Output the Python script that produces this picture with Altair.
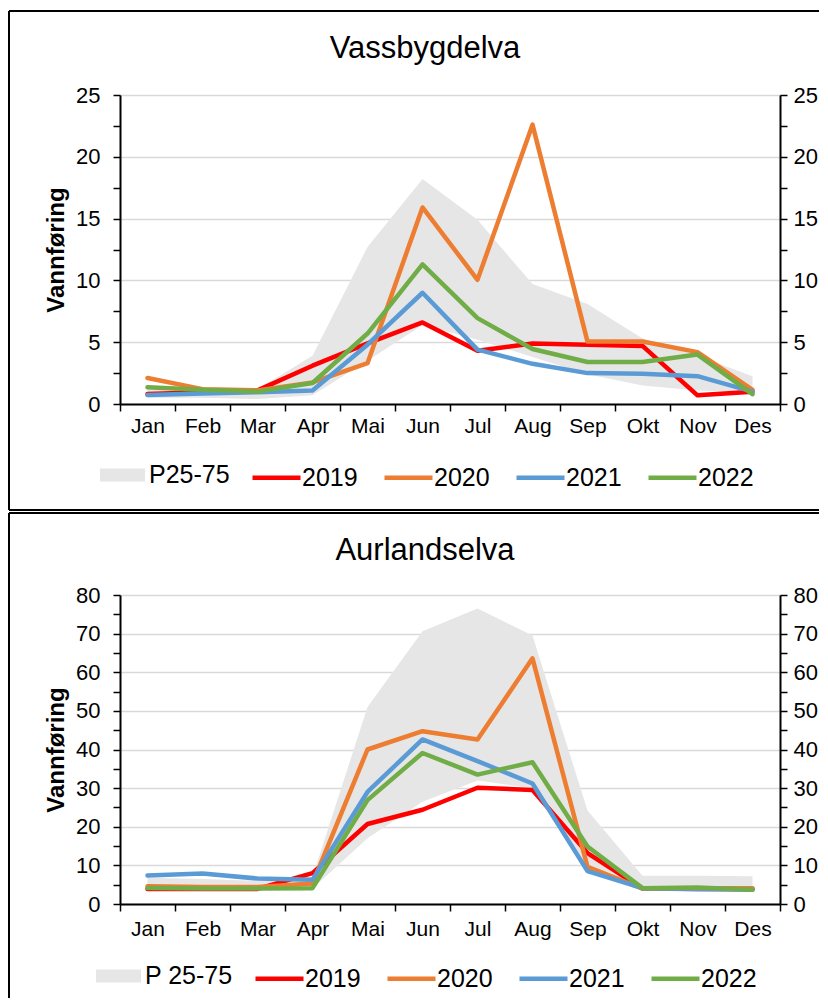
import altair as alt
import pandas as pd

MONTHS = ["Jan", "Feb", "Mar", "Apr", "Mai", "Jun", "Jul", "Aug", "Sep", "Okt", "Nov", "Des"]
YEARS = ["2019", "2020", "2021", "2022"]
COLORS = ["#FF0000", "#ED7D31", "#5B9BD5", "#70AD47"]
BAND_COLOR = "#e6e6e6"

# Vassbygdelva
v_2019 = [0.8, 0.95, 1.1, 3.1, 4.9, 6.6, 4.3, 4.9, 4.8, 4.7, 0.7, 1.0]
v_2020 = [2.1, 1.2, 1.1, 1.75, 3.3, 15.9, 10.05, 22.6, 5.05, 5.05, 4.2, 1.15]
v_2021 = [0.73, 0.85, 0.95, 1.1, 4.8, 9.0, 4.4, 3.25, 2.5, 2.45, 2.25, 1.0]
v_2022 = [1.35, 1.15, 1.0, 1.7, 5.7, 11.3, 6.95, 4.45, 3.4, 3.4, 4.0, 0.8]
v_p25 = [0.5, 0.5, 0.4, 0.7, 3.5, 6.4, 5.2, 3.8, 2.4, 1.5, 1.1, 0.95]
v_p75 = [1.5, 1.3, 1.2, 3.9, 12.7, 18.2, 14.9, 9.7, 8.1, 5.3, 3.9, 2.25]

# Aurlandselva
a_2019 = [3.9, 3.9, 3.9, 8.0, 20.7, 24.4, 30.1, 29.5, 13.2, 4.0, 3.9, 3.9]
a_2020 = [4.6, 4.4, 4.4, 5.3, 40.0, 44.75, 42.6, 63.6, 9.6, 4.0, 4.1, 4.1]
a_2021 = [7.4, 7.9, 6.6, 6.3, 29.0, 42.6, 37.0, 31.2, 8.5, 4.1, 3.9, 3.7]
a_2022 = [4.15, 4.0, 4.0, 4.1, 26.9, 39.1, 33.5, 36.7, 14.9, 4.1, 4.3, 3.7]
a_p25 = [3.5, 3.5, 3.5, 4.0, 17.0, 26.5, 32.0, 30.0, 9.0, 3.8, 3.8, 3.8]
a_p75 = [6.8, 6.5, 6.0, 7.0, 51.0, 70.6, 76.5, 69.5, 24.2, 7.3, 7.3, 7.2]

FONT = "Liberation Sans, Arial, Helvetica, sans-serif"


def panel(title, series, p25, p75, band_label, ymax, major, title_y, x_label_pad,
          legend_y, fill_x, stroke_x, frame_top, frame_bottom, draw_bottom):
    rows = []
    for yr, vals in zip(YEARS, series):
        for m, v in zip(MONTHS, vals):
            rows.append({"month": m, "year": yr, "value": v})
    lines_df = pd.DataFrame(rows)
    band_df = pd.DataFrame({"month": MONTHS, "lo": p25, "hi": p75, "band": band_label})

    minor = major / 2
    ticks = [i * minor for i in range(int(round(ymax / minor)) + 1)]
    is_major = f"abs(datum.value % {major}) < 1e-6"
    label_expr = f"{is_major} ? datum.label : ''"

    xaxis = alt.Axis(tickBand="extent", labelFontSize=21, labelPadding=x_label_pad,
                     labelAngle=0, title=None, grid=False)
    xenc = alt.X("month:N", sort=MONTHS,
                 scale=alt.Scale(type="band", domain=MONTHS, paddingInner=0, paddingOuter=0),
                 bandPosition=0.5, axis=xaxis, title=None)
    yscale = alt.Scale(domain=[0, ymax], nice=False, zero=True)

    left_axis = alt.Axis(orient="left", values=ticks, labelExpr=label_expr,
                         grid=True,
                         gridOpacity={"condition": {"test": is_major, "value": 1}, "value": 0},
                         title="Vannføring", titlePadding=7)
    right_axis = alt.Axis(orient="right", values=ticks, labelExpr=label_expr,
                          grid=False, title=None, labelPadding=6)

    area = alt.Chart(band_df).mark_area(opacity=1).encode(
        x=xenc,
        y=alt.Y("hi:Q", scale=yscale, axis=left_axis, title="Vannføring"),
        y2="lo:Q",
        fill=alt.Fill("band:N", scale=alt.Scale(domain=[band_label], range=[BAND_COLOR]),
                      legend=alt.Legend(orient="none", legendX=fill_x, legendY=legend_y + 1.5,
                                        title=None,
                                        symbolType="M-1,-0.29L1,-0.29L1,0.29L-1,0.29Z",
                                        symbolSize=2025, symbolStrokeWidth=0,
                                        symbolOpacity=1,
                                        labelOffset=4)),
    )

    lines = alt.Chart(lines_df).mark_line(strokeWidth=4.5, strokeJoin="round", strokeCap="round").encode(
        x=xenc,
        y=alt.Y("value:Q", scale=yscale, axis=right_axis, title=None),
        stroke=alt.Stroke("year:N", scale=alt.Scale(domain=YEARS, range=COLORS),
                          legend=alt.Legend(orient="none", legendX=stroke_x, legendY=legend_y,
                                            direction="horizontal", columns=4, title=None,
                                            symbolType="stroke", symbolSize=2304,
                                            symbolStrokeWidth=4.5, labelOffset={"expr": "-1"},
                                            columnPadding=17)),
    )

    title_df = pd.DataFrame({"t": [title]})
    title_mark = alt.Chart(title_df).mark_text(
        font=FONT, fontSize=31, align="center", baseline="alphabetic", color="black"
    ).encode(text="t:N", x=alt.value(305), y=alt.value(title_y))

    frame_df = pd.DataFrame({"k": [0]})
    top_rule = alt.Chart(frame_df).mark_rule(color="black", strokeWidth=2).encode(
        x=alt.value(-111), x2=alt.value(699), y=alt.value(frame_top))
    left_rule = alt.Chart(frame_df).mark_rule(color="black", strokeWidth=2).encode(
        x=alt.value(-111), y=alt.value(frame_top), y2=alt.value(frame_bottom))
    layers = [area, lines, title_mark, top_rule, left_rule]
    if draw_bottom:
        bottom_rule = alt.Chart(frame_df).mark_rule(color="black", strokeWidth=2).encode(
            x=alt.value(-111), x2=alt.value(699), y=alt.value(frame_bottom))
        layers.append(bottom_rule)

    return alt.layer(*layers).resolve_axis(y="independent").properties(width=660, height=309)


top = panel("Vassbygdelva", [v_2019, v_2020, v_2021, v_2022], v_p25, v_p75, "P25-75",
            25, 5, -37, 4, 356, -20, 130, -84, 415, True)
bottom = panel("Aurlandselva", [a_2019, a_2020, a_2021, a_2022], a_p25, a_p75, "P 25-75",
               80, 10, -35, 7, 357, -24, 133, -82, 403, False)

chart = alt.vconcat(top, bottom, spacing=1).resolve_scale(
    x="independent", y="independent", fill="independent", stroke="independent"
).resolve_legend(fill="independent", stroke="independent").properties(
    padding={"left": 0, "top": 2, "right": 0, "bottom": 0}
).configure_view(stroke=None).configure_axis(
    domainColor="black", domainWidth=2, tickColor="black", tickWidth=1.5, tickSize=7,
    labelFont=FONT, labelFontSize=22, labelColor="black", labelPadding=13,
    gridColor="#d9d9d9", gridWidth=1.5,
    titleFont=FONT, titleFontSize=24, titleFontWeight="bold", titleColor="black",
).configure_legend(
    labelFont=FONT, labelFontSize=25, labelColor="black", padding=0,
)

chart.save("out.html", embed_options={"renderer": "svg", "actions": False})
